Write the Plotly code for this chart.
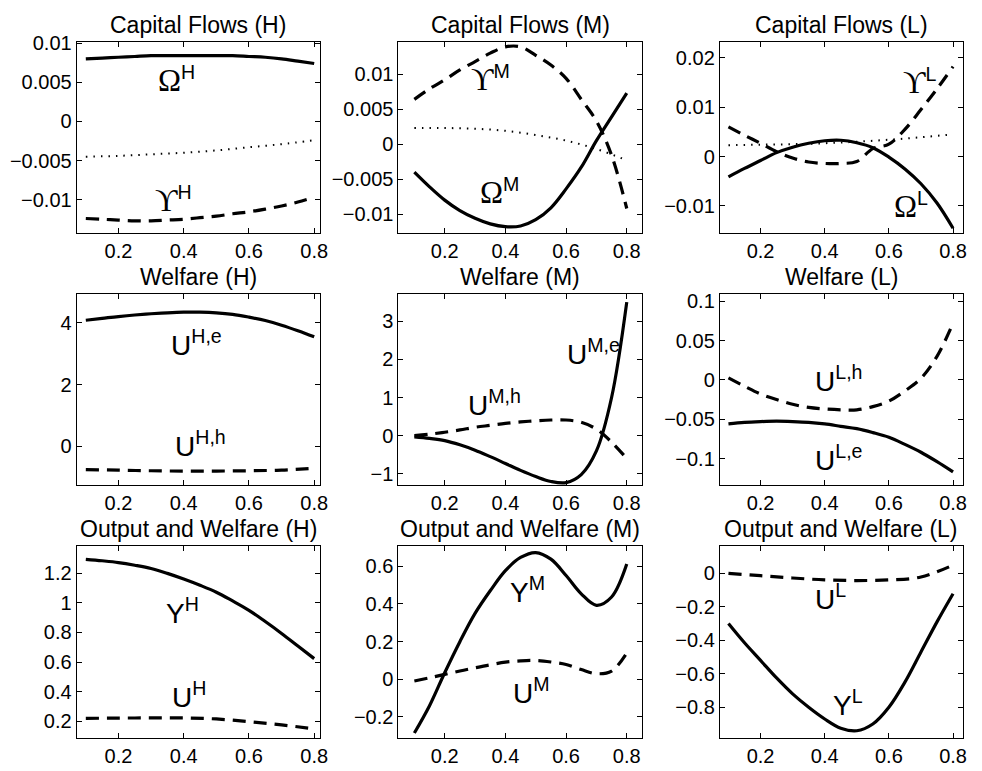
import plotly.graph_objects as go

# ---------------- data ----------------
X8 = [0.1, 0.2, 0.3, 0.4, 0.5, 0.6, 0.7, 0.8]
X15 = [0.1, 0.15, 0.2, 0.25, 0.3, 0.35, 0.4, 0.45, 0.5, 0.55, 0.6, 0.65, 0.7, 0.75, 0.8]

panel_titles = ["Capital Flows (H)", "Capital Flows (M)", "Capital Flows (L)",
                "Welfare (H)", "Welfare (M)", "Welfare (L)",
                "Output and Welfare (H)", "Output and Welfare (M)", "Output and Welfare (L)"]

# Capital flows (H)
cfH_omega = [0.0080, 0.0081, 0.0082, 0.0083, 0.0084, 0.0084, 0.0084, 0.0084,
             0.0084, 0.0084, 0.0083, 0.0082, 0.0080, 0.0077, 0.0074]
cfH_ups = [-0.0124, -0.0125, -0.0126, -0.0127, -0.0127, -0.0126, -0.0125, -0.0123,
           -0.0121, -0.0118, -0.01155, -0.0112, -0.0108, -0.0103, -0.0097]
cfH_dot = [-0.0045, -0.0044, -0.0042, -0.0040, -0.0037, -0.0033, -0.0029, -0.0024]
# Capital flows (M)
cfM_omega = [-0.0040, -0.0061, -0.0080, -0.0095, -0.0106, -0.0114, -0.0118, -0.0117,
             -0.0108, -0.0091, -0.0064, -0.0033, 0.0005, 0.0039, 0.0073]
cfM_ups = [0.0064, 0.0079, 0.0092, 0.0106, 0.0118, 0.0130, 0.0139, 0.0139,
           0.0127, 0.0113, 0.0094, 0.0064, 0.0033, -0.0016, -0.0092]
cfM_dot = [0.0023, 0.0023, 0.0022, 0.0019, 0.0013, 0.0005, -0.0007, -0.0023]
# Capital flows (L)
cfL_omega = [-0.0041, -0.0024, -0.0008, 0.0008, 0.0019, 0.0027, 0.0032, 0.0033,
             0.0028, 0.0018, -0.0001, -0.0025, -0.0055, -0.0094, -0.0145]
cfL_ups = [0.0060, 0.0043, 0.0027, 0.0010, -0.0003, -0.0011, -0.0014, -0.0014,
           -0.0010, 0.0016, 0.0025, 0.0055, 0.0095, 0.0137, 0.0182]
cfL_dot = [0.0023, 0.0024, 0.0025, 0.0027, 0.0030, 0.0034, 0.0039, 0.0045]

# Welfare
wH_e = [4.09, 4.15, 4.21, 4.26, 4.30, 4.33, 4.35, 4.35,
        4.33, 4.28, 4.19, 4.08, 3.93, 3.75, 3.55]
wH_h = [-0.76, -0.78, -0.80, -0.81, -0.81, -0.80, -0.78, -0.72]
wM_e = [-0.03, -0.07, -0.13, -0.24, -0.38, -0.55, -0.73, -0.91,
        -1.07, -1.20, -1.23, -1.02, -0.40, 1.00, 3.50]
wM_h = [0.00, 0.04, 0.09, 0.15, 0.22, 0.27, 0.32, 0.36,
        0.39, 0.41, 0.41, 0.35, 0.17, -0.17, -0.60]
wL_h = [0.0025, -0.008, -0.018, -0.025, -0.031, -0.035, -0.037, -0.038,
        -0.038, -0.034, -0.027, -0.014, 0.002, 0.030, 0.072]
wL_e = [-0.056, -0.054, -0.053, -0.0525, -0.053, -0.054, -0.056, -0.059,
        -0.062, -0.067, -0.073, -0.082, -0.092, -0.104, -0.117]

# Output and welfare
oH_Y = [1.293, 1.283, 1.271, 1.253, 1.231, 1.198, 1.160, 1.118,
        1.071, 1.012, 0.949, 0.873, 0.793, 0.708, 0.623]
oH_U = [0.220, 0.222, 0.223, 0.223, 0.216, 0.198, 0.176, 0.149]
oM_Y = [-0.285, -0.140, 0.035, 0.200, 0.350, 0.470, 0.577, 0.647,
        0.673, 0.638, 0.551, 0.454, 0.393, 0.437, 0.612]
oM_U = [-0.009, 0.008, 0.026, 0.044, 0.061, 0.077, 0.091, 0.098,
        0.100, 0.092, 0.079, 0.052, 0.030, 0.044, 0.140]
oL_Y = [-0.300, -0.415, -0.520, -0.625, -0.720, -0.800, -0.870, -0.925,
        -0.940, -0.900, -0.800, -0.650, -0.470, -0.290, -0.122]
oL_U = [0.000, -0.014, -0.028, -0.039, -0.043, -0.039, -0.022, 0.049]

x_tickvals = [0.2, 0.4, 0.6, 0.8]
x_ticktext = ["0.2", "0.4", "0.6", "0.8"]

y_tickvals = [
    [-0.01, -0.005, 0, 0.005, 0.01],
    [-0.01, -0.005, 0, 0.005, 0.01],
    [-0.01, 0, 0.01, 0.02],
    [0, 2, 4],
    [-1, 0, 1, 2, 3],
    [-0.1, -0.05, 0, 0.05, 0.1],
    [0.2, 0.4, 0.6, 0.8, 1, 1.2],
    [-0.2, 0, 0.2, 0.4, 0.6],
    [-0.8, -0.6, -0.4, -0.2, 0],
]
y_ticktext = [
    ["\u22120.01", "\u22120.005", "0", "0.005", "0.01"],
    ["\u22120.01", "\u22120.005", "0", "0.005", "0.01"],
    ["\u22120.01", "0", "0.01", "0.02"],
    ["0", "2", "4"],
    ["\u22121", "0", "1", "2", "3"],
    ["\u22120.1", "\u22120.05", "0", "0.05", "0.1"],
    ["0.2", "0.4", "0.6", "0.8", "1", "1.2"],
    ["\u22120.2", "0", "0.2", "0.4", "0.6"],
    ["\u22120.8", "\u22120.6", "\u22120.4", "\u22120.2", "0"],
]

x_ranges = [[0.072, 0.818], [0.0475, 0.849], [0.073, 0.831]]
y_ranges = [
    [-0.0143, 0.0102], [-0.01275, 0.01465], [-0.01554, 0.02326],
    [-1.265, 4.944], [-1.295, 3.715], [-0.1337, 0.1093],
    [0.087, 1.383], [-0.312, 0.708], [-0.984, 0.1635],
]

SERIF = "font-family:Liberation Serif, DejaVu Serif;font-size:31px"
OM = '<span style="%s">\u03a9</span>' % SERIF
UP = '<span style="%s">\u03d2</span>' % SERIF

# (panel, text, x, y)
labels = [
    (0, OM + "<sup>H</sup>", 0.378, 0.0054),
    (0, UP + "<sup>H</sup>", 0.369, -0.0100),
    (1, UP + "<sup>M</sup>", 0.352, 0.0094),
    (1, OM + "<sup>M</sup>", 0.382, -0.0068),
    (2, UP + "<sup>L</sup>", 0.695, 0.0151),
    (2, OM + "<sup>L</sup>", 0.668, -0.0099),
    (3, "U<sup>H,e</sup>", 0.438, 3.34),
    (3, "U<sup>H,h</sup>", 0.451, 0.07),
    (4, "U<sup>M,h</sup>", 0.364, 0.85),
    (4, "U<sup>M,e</sup>", 0.691, 2.20),
    (5, "U<sup>L,h</sup>", 0.442, 0.0017),
    (5, "U<sup>L,e</sup>", 0.445, -0.0989),
    (6, "Y<sup>H</sup>", 0.397, 0.945),
    (6, "U<sup>H</sup>", 0.417, 0.378),
    (7, "Y<sup>M</sup>", 0.473, 0.476),
    (7, "U<sup>M</sup>", 0.486, -0.061),
    (8, "U<sup>L</sup>", 0.419, -0.142),
    (8, "Y<sup>L</sup>", 0.473, -0.772),
]

# ---------------- layout geometry (pixels of a 982x771 canvas) ----------------
W, H = 982, 771
col_px = [(77.3, 322.7), (401.7, 646.9), (725.7, 970.9)]
row_px = [(33.0, 227.0), (288.3, 481.7), (543.3, 737.7)]

SOLID = dict(color="black", width=3.2)
DASH = dict(color="black", width=3.2, dash="13px,8px")
DOT = dict(color="black", width=2, dash="1.5px,6px")

series = [
    (0, X15, cfH_omega, SOLID), (0, X15, cfH_ups, DASH), (0, X8, cfH_dot, DOT),
    (1, X15, cfM_omega, SOLID), (1, X15, cfM_ups, DASH), (1, X8, cfM_dot, DOT),
    (2, X15, cfL_omega, SOLID), (2, X15, cfL_ups, DASH), (2, X8, cfL_dot, DOT),
    (3, X15, wH_e, SOLID), (3, X8, wH_h, DASH),
    (4, X15, wM_e, SOLID), (4, X15, wM_h, DASH),
    (5, X15, wL_e, SOLID), (5, X15, wL_h, DASH),
    (6, X15, oH_Y, SOLID), (6, X8, oH_U, DASH),
    (7, X15, oM_Y, SOLID), (7, X15, oM_U, DASH),
    (8, X15, oL_Y, SOLID), (8, X8, oL_U, DASH),
]

FONT = "Liberation Sans, Arial, Helvetica, sans-serif"

fig = go.Figure()

def ax_suffix(i):
    return "" if i == 0 else str(i + 1)

for p, xs, ys, ln in series:
    fig.add_trace(go.Scatter(
        x=xs, y=ys, mode="lines", line=dict(shape="spline", smoothing=1.0, **ln),
        xaxis="x" + ax_suffix(p), yaxis="y" + ax_suffix(p),
        showlegend=False, hoverinfo="skip"))

layout = dict(
    width=W, height=H, margin=dict(l=0, r=0, t=0, b=0),
    paper_bgcolor="white", plot_bgcolor="white",
    font=dict(family=FONT, color="black", size=20),
    showlegend=False,
)

annotations = []
for i in range(9):
    r, c = divmod(i, 3)
    x0, x1 = col_px[c]
    y0, y1 = row_px[r]
    s = ax_suffix(i)
    common = dict(showline=True, linecolor="black", linewidth=1, mirror="ticks",
                  ticks="inside", ticklen=5, tickcolor="black", tickwidth=1,
                  showgrid=False, zeroline=False,
                  tickfont=dict(family=FONT, size=20, color="black"))
    layout["xaxis" + s] = dict(domain=[x0 / W, x1 / W], range=x_ranges[c],
                              anchor="y" + s, tickmode="array",
                              tickvals=x_tickvals, ticktext=x_ticktext, **common)
    layout["yaxis" + s] = dict(domain=[1 - y1 / H, 1 - y0 / H], range=y_ranges[i],
                              anchor="x" + s, tickmode="array",
                              tickvals=y_tickvals[i], ticktext=y_ticktext[i], **common)
    annotations.append(dict(
        text=panel_titles[i], xref="paper", yref="paper",
        x=(x0 + x1) / 2 / W, y=1 - y0 / H, xanchor="center", yanchor="bottom",
        yshift=2, showarrow=False, font=dict(family=FONT, size=23, color="black")))

for p, txt, lx, ly in labels:
    s = ax_suffix(p)
    annotations.append(dict(
        text=txt, xref="x" + s, yref="y" + s, x=lx, y=ly,
        xanchor="center", yanchor="middle", showarrow=False,
        font=dict(family=FONT, size=28, color="black")))

layout["annotations"] = annotations
fig.update_layout(**layout)
fig.write_html("out.html",
               config={"displayModeBar": False, "staticPlot": True},
               post_script="document.body.style.margin='0';document.body.style.overflow='hidden';")
